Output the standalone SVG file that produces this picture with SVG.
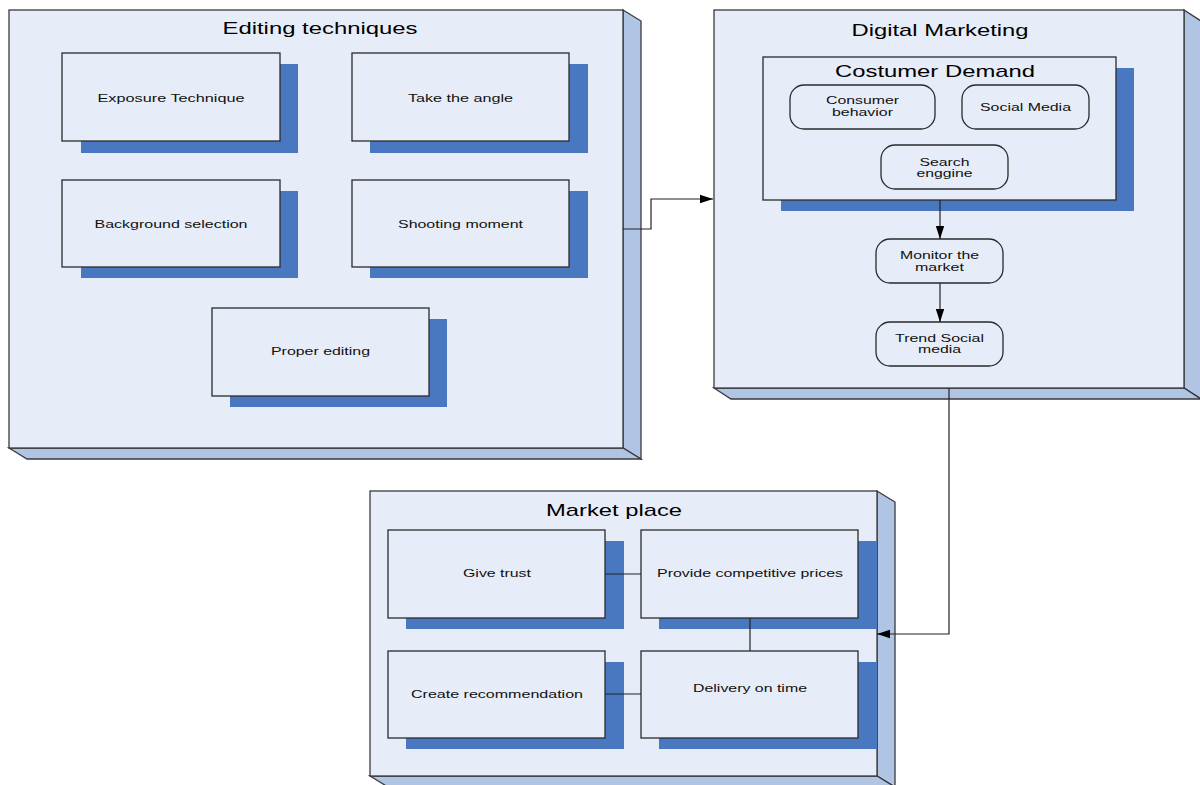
<svg xmlns="http://www.w3.org/2000/svg" width="1200" height="785" viewBox="0 0 1200 785">
<defs>
<style>
.face{fill:#e7edf8;stroke:#3a3a3a;stroke-width:1.3}
.side{fill:#b0c5e4;stroke:#3a3a3a;stroke-width:1.3}
.shadow{fill:#4a78c0}
.box{fill:#e7edf8;stroke:#2a2a2a;stroke-width:1.3}
.t{font-family:"Liberation Sans",Arial,sans-serif;font-size:11.5px;fill:#111;text-anchor:middle}
.title{font-family:"Liberation Sans",Arial,sans-serif;font-size:17px;fill:#000;text-anchor:middle}
.conn{fill:none;stroke:#222;stroke-width:1.2}
</style>
<marker id="arr" viewBox="0 0 13 10" refX="13" refY="5" markerWidth="13" markerHeight="10" markerUnits="userSpaceOnUse" orient="auto">
<path d="M0,0.8 L13,5 L0,9.2 z" fill="#000"/>
</marker>
</defs>
<rect width="1200" height="785" fill="#fff"/>

<g id="editing-techniques">
<polygon class="side" points="623,10 641,21 641,459 623,448"/>
<polygon class="side" points="9,448 623,448 641,459 27,459"/>
<rect class="face" x="9" y="10" width="614" height="438"/>
<text class="title" x="320" y="34" textLength="195" lengthAdjust="spacingAndGlyphs">Editing techniques</text>
</g>
<g id="exposure-technique">
<rect class="shadow" x="81" y="64" width="217" height="89"/>
<rect class="box" x="62" y="53" width="218" height="88"/>
<text class="t" x="171" y="102" textLength="147" lengthAdjust="spacingAndGlyphs">Exposure Technique</text>
</g>
<g id="take-the-angle">
<rect class="shadow" x="370" y="64" width="218" height="89"/>
<rect class="box" x="352" y="53" width="217" height="88"/>
<text class="t" x="460.5" y="102" textLength="105" lengthAdjust="spacingAndGlyphs">Take the angle</text>
</g>
<g id="background-selection">
<rect class="shadow" x="81" y="191" width="217" height="87"/>
<rect class="box" x="62" y="180" width="218" height="87"/>
<text class="t" x="171" y="228" textLength="153" lengthAdjust="spacingAndGlyphs">Background selection</text>
</g>
<g id="shooting-moment">
<rect class="shadow" x="370" y="191" width="218" height="87"/>
<rect class="box" x="352" y="180" width="217" height="87"/>
<text class="t" x="460.5" y="228" textLength="125" lengthAdjust="spacingAndGlyphs">Shooting moment</text>
</g>
<g id="proper-editing">
<rect class="shadow" x="230" y="319" width="217" height="88"/>
<rect class="box" x="212" y="308" width="217" height="88"/>
<text class="t" x="320.5" y="355" textLength="99" lengthAdjust="spacingAndGlyphs">Proper editing</text>
</g>

<g id="digital-marketing">
<polygon class="side" points="1184,10 1201,21 1201,399 1184,388"/>
<polygon class="side" points="714,388 1184,388 1201,399 731,399"/>
<rect class="face" x="714" y="10" width="470" height="378"/>
<text class="title" x="940" y="36" textLength="177" lengthAdjust="spacingAndGlyphs">Digital Marketing</text>
</g>
<g id="costumer-demand">
<rect class="shadow" x="781" y="68" width="353" height="143"/>
<rect class="box" x="763" y="57" width="353" height="143"/>
<text class="title" x="935" y="77" textLength="200" lengthAdjust="spacingAndGlyphs">Costumer Demand</text>
</g>
<g id="consumer-behavior">
<rect class="box" x="790" y="85" width="145" height="44" rx="14"/>
<text class="t" x="862.5" y="104" textLength="73" lengthAdjust="spacingAndGlyphs">Consumer</text>
<text class="t" x="862.5" y="116" textLength="61" lengthAdjust="spacingAndGlyphs">behavior</text>
</g>
<g id="social-media">
<rect class="box" x="962" y="85" width="127" height="44" rx="14"/>
<text class="t" x="1025.5" y="111" textLength="91" lengthAdjust="spacingAndGlyphs">Social Media</text>
</g>
<g id="search-enggine">
<rect class="box" x="881" y="145" width="127" height="44" rx="14"/>
<text class="t" x="944.5" y="166" textLength="50" lengthAdjust="spacingAndGlyphs">Search</text>
<text class="t" x="944.5" y="177" textLength="56" lengthAdjust="spacingAndGlyphs">enggine</text>
</g>
<g id="monitor-the-market">
<rect class="box" x="876" y="239" width="127" height="44" rx="14"/>
<text class="t" x="939.5" y="259" textLength="79" lengthAdjust="spacingAndGlyphs">Monitor the</text>
<text class="t" x="939.5" y="271" textLength="49" lengthAdjust="spacingAndGlyphs">market</text>
</g>
<g id="trend-social-media">
<rect class="box" x="876" y="322" width="127" height="44" rx="14"/>
<text class="t" x="939.5" y="342" textLength="89" lengthAdjust="spacingAndGlyphs">Trend Social</text>
<text class="t" x="939.5" y="353" textLength="43" lengthAdjust="spacingAndGlyphs">media</text>
</g>

<g id="market-place">
<polygon class="side" points="877,491 895,502 895,787 877,776"/>
<polygon class="side" points="370,776 877,776 895,787 388,787"/>
<rect class="face" x="370" y="491" width="507" height="285"/>
<text class="title" x="614" y="516" textLength="136" lengthAdjust="spacingAndGlyphs">Market place</text>
</g>
<g id="give-trust">
<rect class="shadow" x="406" y="541" width="218" height="88"/>
<rect class="box" x="388" y="530" width="217" height="88"/>
<text class="t" x="497" y="577" textLength="68" lengthAdjust="spacingAndGlyphs">Give trust</text>
</g>
<g id="provide-competitive-prices">
<rect class="shadow" x="659" y="541" width="218" height="88"/>
<rect class="box" x="641" y="530" width="217" height="88"/>
<text class="t" x="750" y="577" textLength="186" lengthAdjust="spacingAndGlyphs">Provide competitive prices</text>
</g>
<g id="create-recommendation">
<rect class="shadow" x="406" y="662" width="218" height="87"/>
<rect class="box" x="388" y="651" width="217" height="87"/>
<text class="t" x="497" y="698" textLength="172" lengthAdjust="spacingAndGlyphs">Create recommendation</text>
</g>
<g id="delivery-on-time">
<rect class="shadow" x="659" y="662" width="218" height="87"/>
<rect class="box" x="641" y="651" width="217" height="87"/>
<text class="t" x="750" y="692" textLength="114" lengthAdjust="spacingAndGlyphs">Delivery on time</text>
</g>

<g id="connectors">
<path class="conn" d="M623,229 H651 V199 H713" marker-end="url(#arr)"/>
<path class="conn" d="M940,200 V239" marker-end="url(#arr)"/>
<path class="conn" d="M940,283 V322" marker-end="url(#arr)"/>
<path class="conn" d="M949,388 V634 H877" marker-end="url(#arr)"/>
<path class="conn" d="M605,574 H641"/>
<path class="conn" d="M750,618 V651"/>
<path class="conn" d="M605,694 H641"/>
</g>
</svg>
